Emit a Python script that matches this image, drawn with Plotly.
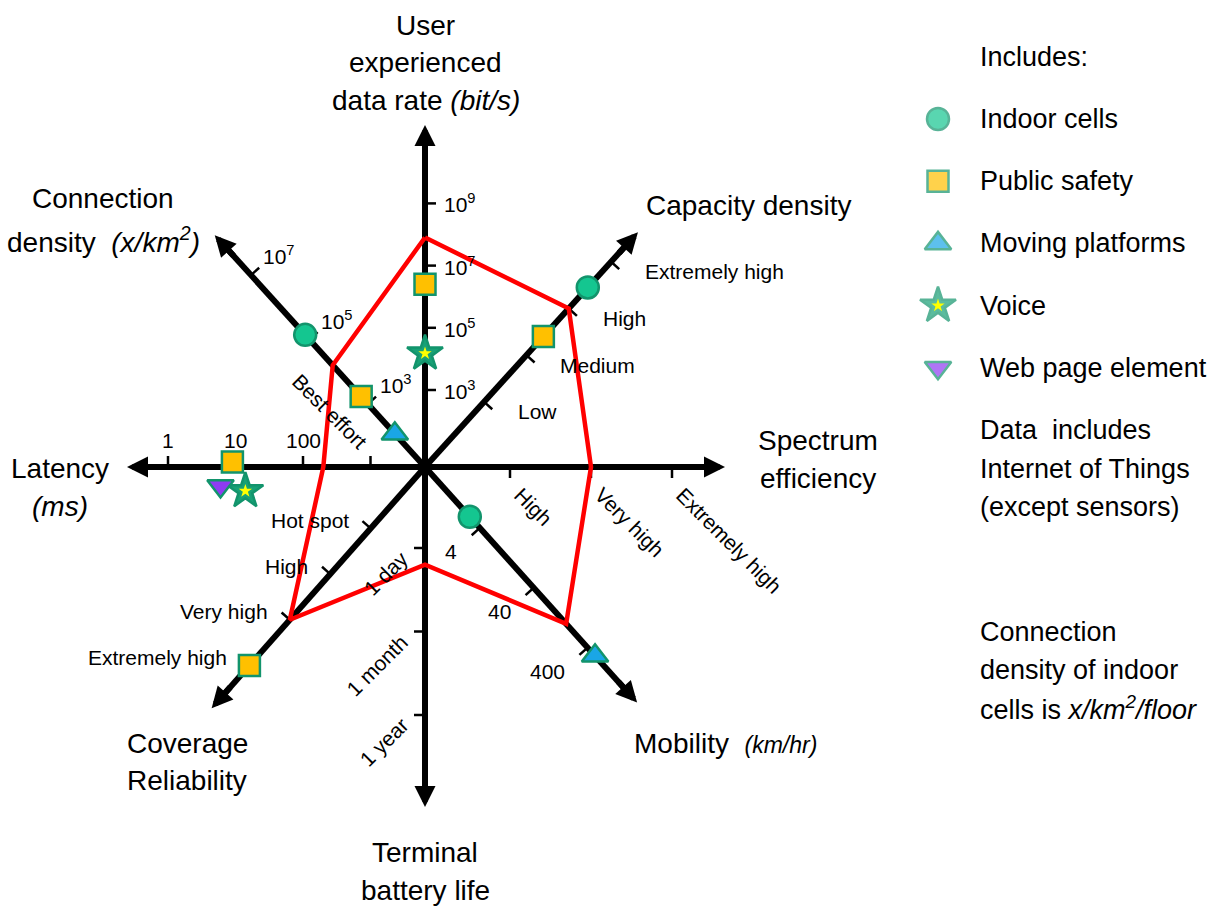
import numpy as np
import plotly.graph_objects as go

W, H = 1226, 908
CX, CY = 425, 467          # centre of the star (page pixels)
FONT = "Liberation Sans, Arial, sans-serif"

# ---------------- data ----------------
axis_keys = ["rate", "capacity", "spectrum", "mobility", "battery", "coverage", "latency", "density"]

rate_ticks = [1e3, 1e5, 1e7, 1e9]
rate_tick_text = ["10<sup>3</sup>", "10<sup>5</sup>", "10<sup>7</sup>", "10<sup>9</sup>"]
capacity_tick_text = ["Low", "Medium", "High", "Extremely high"]
spectrum_tick_text = ["High", "Very high", "Extremely high"]
mobility_ticks = [4, 40, 400]
mobility_tick_text = ["4", "40", "400"]
battery_tick_text = ["1 day", "1 month", "1 year"]
coverage_tick_text = ["Hot spot", "High", "Very high", "Extremely high"]
latency_ticks = [1, 10, 100, 1000]
latency_tick_text = ["1", "10", "100", "Best effort"]
density_ticks = [1e3, 1e5, 1e7]
density_tick_text = ["10<sup>3</sup>", "10<sup>5</sup>", "10<sup>7</sup>"]

# values in axis_keys order; word axes use rank (1 = first tick label)
imt2020 = [8e7, 3, 2, 160, 1.2, 3, 200, 1.6e4]

series_names = ["Indoor cells", "Public safety", "Moving platforms", "Voice", "Web page element"]
indoor_cells = [None, 3.45, None, 2.6, None, None, None, 1.4e5]
public_safety = [2.5e6, 2.4, None, None, None, 4, 9, 1.7e3]
moving_platforms = [None, None, None, 550, None, None, None, 120]
voice = [1.5e4, None, None, None, None, None, 14, None]
web_page_element = [None, None, None, None, None, None, 6, None]
series_values = [indoor_cells, public_safety, moving_platforms, voice, web_page_element]

# ---------------- axis geometry ----------------
def cat(labels):
    return list(range(1, len(labels) + 1))

axes = {
    "rate":     dict(angle=90,    length=342, r0=77,  step=31.1,  log=True,  ticks=rate_ticks,               labels=rate_tick_text),
    "capacity": dict(angle=47.8,  length=317, r0=88,  step=63,    log=False, ticks=cat(capacity_tick_text),  labels=capacity_tick_text),
    "spectrum": dict(angle=0,     length=300, r0=85,  step=81,    log=False, ticks=cat(spectrum_tick_text),  labels=spectrum_tick_text),
    "mobility": dict(angle=-48,   length=317, r0=82,  step=80.5,  log=True,  ticks=mobility_ticks,           labels=mobility_tick_text),
    "battery":  dict(angle=-90,   length=340, r0=81,  step=83.5,  log=False, ticks=cat(battery_tick_text),   labels=battery_tick_text),
    "coverage": dict(angle=228.5, length=322, r0=82,  step=61,    log=False, ticks=cat(coverage_tick_text),  labels=coverage_tick_text),
    "latency":  dict(angle=180,   length=298, r0=257, step=-67.5, log=True,  ticks=latency_ticks,            labels=latency_tick_text),
    "density":  dict(angle=132.2, length=313, r0=85,  step=43.5,  log=True,  ticks=density_ticks,            labels=density_tick_text),
}

# tick label placement relative to the tick (dx, dy, xanchor, yanchor, textangle)
label_style = {
    "rate":     (17, 0, "left", "middle", 0),
    "capacity": (32, -10, "left", "middle", 0),
    "spectrum": (-3, -13, "left", "top", 45),
    "mobility": (-21, -24, "right", "middle", 0),
    "battery":  (-10, 4, "right", "top", -45),
    "coverage": (-20, 8, "right", "middle", 0),
    "latency":  (0, 27, "center", "middle", 0),
    "density":  (10, 20, "left", "middle", 0),
}
label_override = {("latency", "Best effort"): (4, 11, "right", "bottom", 45)}

# markers pushed off the axis so they don't overlap
nudge = {("Public safety", "latency"): (0, 5),
         ("Voice", "latency"): (0, -24),
         ("Web page element", "latency"): (0, -19)}

OUTLINE = "#12946C"
series_style = {
    "Indoor cells":     dict(symbol="circle", size=22, color="#14C690"),
    "Public safety":    dict(symbol="square", size=21, color="#FFC000"),
    "Moving platforms": dict(symbol="triangle-up", size=23, color="#1AA6E6"),
    "Voice":            dict(symbol="star", size=27, color="#17A176"),
    "Web page element": dict(symbol="triangle-down", size=23, color="#8E3BF2"),
}


def unit(key):
    th = np.radians(axes[key]["angle"])
    return np.cos(th), np.sin(th)


def radius(key, v):
    a = axes[key]
    u = np.log10(v / a["ticks"][0]) if a["log"] else v - a["ticks"][0]
    return a["r0"] + u * a["step"]


def point(key, v):
    c, s = unit(key)
    r = radius(key, v)
    return r * c, r * s


def P(xp, yp):
    # page pixel -> data coords
    return xp - CX, CY - yp


fig = go.Figure()

# axis lines
for key in axis_keys:
    c, s = unit(key)
    L = axes[key]["length"] - 12
    fig.add_trace(go.Scatter(x=[0, L * c], y=[0, L * s], mode="lines",
                             line=dict(color="black", width=6), hoverinfo="skip", showlegend=False))

# tick marks (on the clockwise side of each axis)
tx, ty = [], []
for key in axis_keys:
    c, s = unit(key)
    pc, ps = s, -c
    for t in axes[key]["ticks"]:
        x0, y0 = point(key, t)
        tx += [x0, x0 + 11 * pc, None]
        ty += [y0, y0 + 11 * ps, None]
fig.add_trace(go.Scatter(x=tx, y=ty, mode="lines", line=dict(color="black", width=2.5),
                         hoverinfo="skip", showlegend=False))

# IMT-2020 polygon
px_, py_ = zip(*[point(k, v) for k, v in zip(axis_keys, imt2020)])
fig.add_trace(go.Scatter(x=list(px_) + [px_[0]], y=list(py_) + [py_[0]], mode="lines",
                         line=dict(color="#FF0000", width=4.5), hoverinfo="skip", showlegend=False))

# usage-scenario markers
for name, vals in zip(series_names, series_values):
    xs, ys = [], []
    for key, v in zip(axis_keys, vals):
        if v is None:
            continue
        x, y = point(key, v)
        dx, dy = nudge.get((name, key), (0, 0))
        xs.append(x + dx)
        ys.append(y + dy)
    st = series_style[name]
    fig.add_trace(go.Scatter(x=xs, y=ys, mode="markers", name=name, showlegend=False,
                             marker=dict(symbol=st["symbol"], size=st["size"], color=st["color"],
                                         line=dict(color=OUTLINE, width=2.5))))
    if name == "Voice":
        fig.add_trace(go.Scatter(x=xs, y=ys, mode="markers", showlegend=False, hoverinfo="skip",
                                 marker=dict(symbol="star", size=10, color="#FFFF00")))

# legend keys (drawn by hand, right side)
leg_x, leg_y0, leg_dy = 938, 119, 62.2
lx = [P(leg_x, leg_y0 + i * leg_dy)[0] for i in range(len(series_names))]
ly = [P(leg_x, leg_y0 + i * leg_dy)[1] for i in range(len(series_names))]
fig.add_trace(go.Scatter(x=lx, y=ly, mode="markers", showlegend=False, hoverinfo="skip",
                         marker=dict(symbol=[series_style[n]["symbol"] for n in series_names],
                                     size=[series_style[n]["size"] for n in series_names],
                                     color=[series_style[n]["color"] for n in series_names],
                                     line=dict(color=OUTLINE, width=2.5))))
vi = series_names.index("Voice")
fig.add_trace(go.Scatter(x=[lx[vi]], y=[ly[vi]], mode="markers", showlegend=False, hoverinfo="skip",
                         marker=dict(symbol="star", size=10, color="#FFFF00")))

ann = []
# arrow heads
for key in axis_keys:
    c, s = unit(key)
    L = axes[key]["length"]
    ann.append(dict(x=L * c, y=L * s, ax=(L - 30) * c, ay=(L - 30) * s, xref="x", yref="y",
                    axref="x", ayref="y", text="", showarrow=True, arrowhead=2,
                    arrowwidth=6, arrowsize=0.7, arrowcolor="black", standoff=0))

# tick labels
for key in axis_keys:
    for t, lab in zip(axes[key]["ticks"], axes[key]["labels"]):
        x0, y0 = point(key, t)
        dx, dy, xa, ya, ta = label_override.get((key, lab), label_style[key])
        ann.append(dict(x=x0 + dx, y=y0 + dy, xref="x", yref="y", text=lab, showarrow=False,
                        xanchor=xa, yanchor=ya, textangle=ta,
                        font=dict(family=FONT, size=21, color="black")))

# axis titles (page pixel positions, one line each)
titles = [
    ("User", 425, 25), ("experienced", 425, 62), ("data rate <i>(bit/s)</i>", 426, 100),
    ("Capacity density", 748, 205),
    ("Spectrum", 818, 440), ("efficiency", 818, 478),
    ("Mobility  <span style='font-size:23px'><i>(km/hr)</i></span>", 725, 743),
    ("Terminal", 425, 852), ("battery life", 425, 890),
    ("Coverage", 187, 743), ("Reliability", 187, 780),
    ("Latency", 60, 468), ("<i>(ms)</i>", 60, 506),
    ("Connection", 103, 198), ("density  <i>(x/km<sup>2</sup>)</i>", 103, 240),
]
for txt, xp, yp in titles:
    x, y = P(xp, yp)
    ann.append(dict(x=x, y=y, xref="x", yref="y", text=txt, showarrow=False,
                    xanchor="center", yanchor="middle",
                    font=dict(family=FONT, size=28, color="black")))

# legend / notes text
side_text = [("Includes:", 57)] + [(n, leg_y0 + i * leg_dy) for i, n in enumerate(series_names)] + [
    ("Data  includes", 430), ("Internet of Things", 469), ("(except sensors)", 507),
    ("Connection", 632), ("density of indoor", 670), ("cells is <i>x/km<sup>2</sup>/floor</i>", 708),
]
for txt, yp in side_text:
    x, y = P(978, yp)
    ann.append(dict(x=x, y=y, xref="x", yref="y", text=txt, showarrow=False,
                    xanchor="left", yanchor="middle",
                    font=dict(family=FONT, size=27, color="black")))

fig.update_layout(
    width=W, height=H, margin=dict(l=0, r=0, t=0, b=0),
    paper_bgcolor="white", plot_bgcolor="white",
    xaxis=dict(range=[-CX, W - CX], visible=False, fixedrange=True),
    yaxis=dict(range=[CY - H, CY], visible=False, fixedrange=True),
    annotations=ann, showlegend=False,
)

fig.write_html("out.html", config={"displayModeBar": False},
               post_script="document.body.style.margin='0';")
